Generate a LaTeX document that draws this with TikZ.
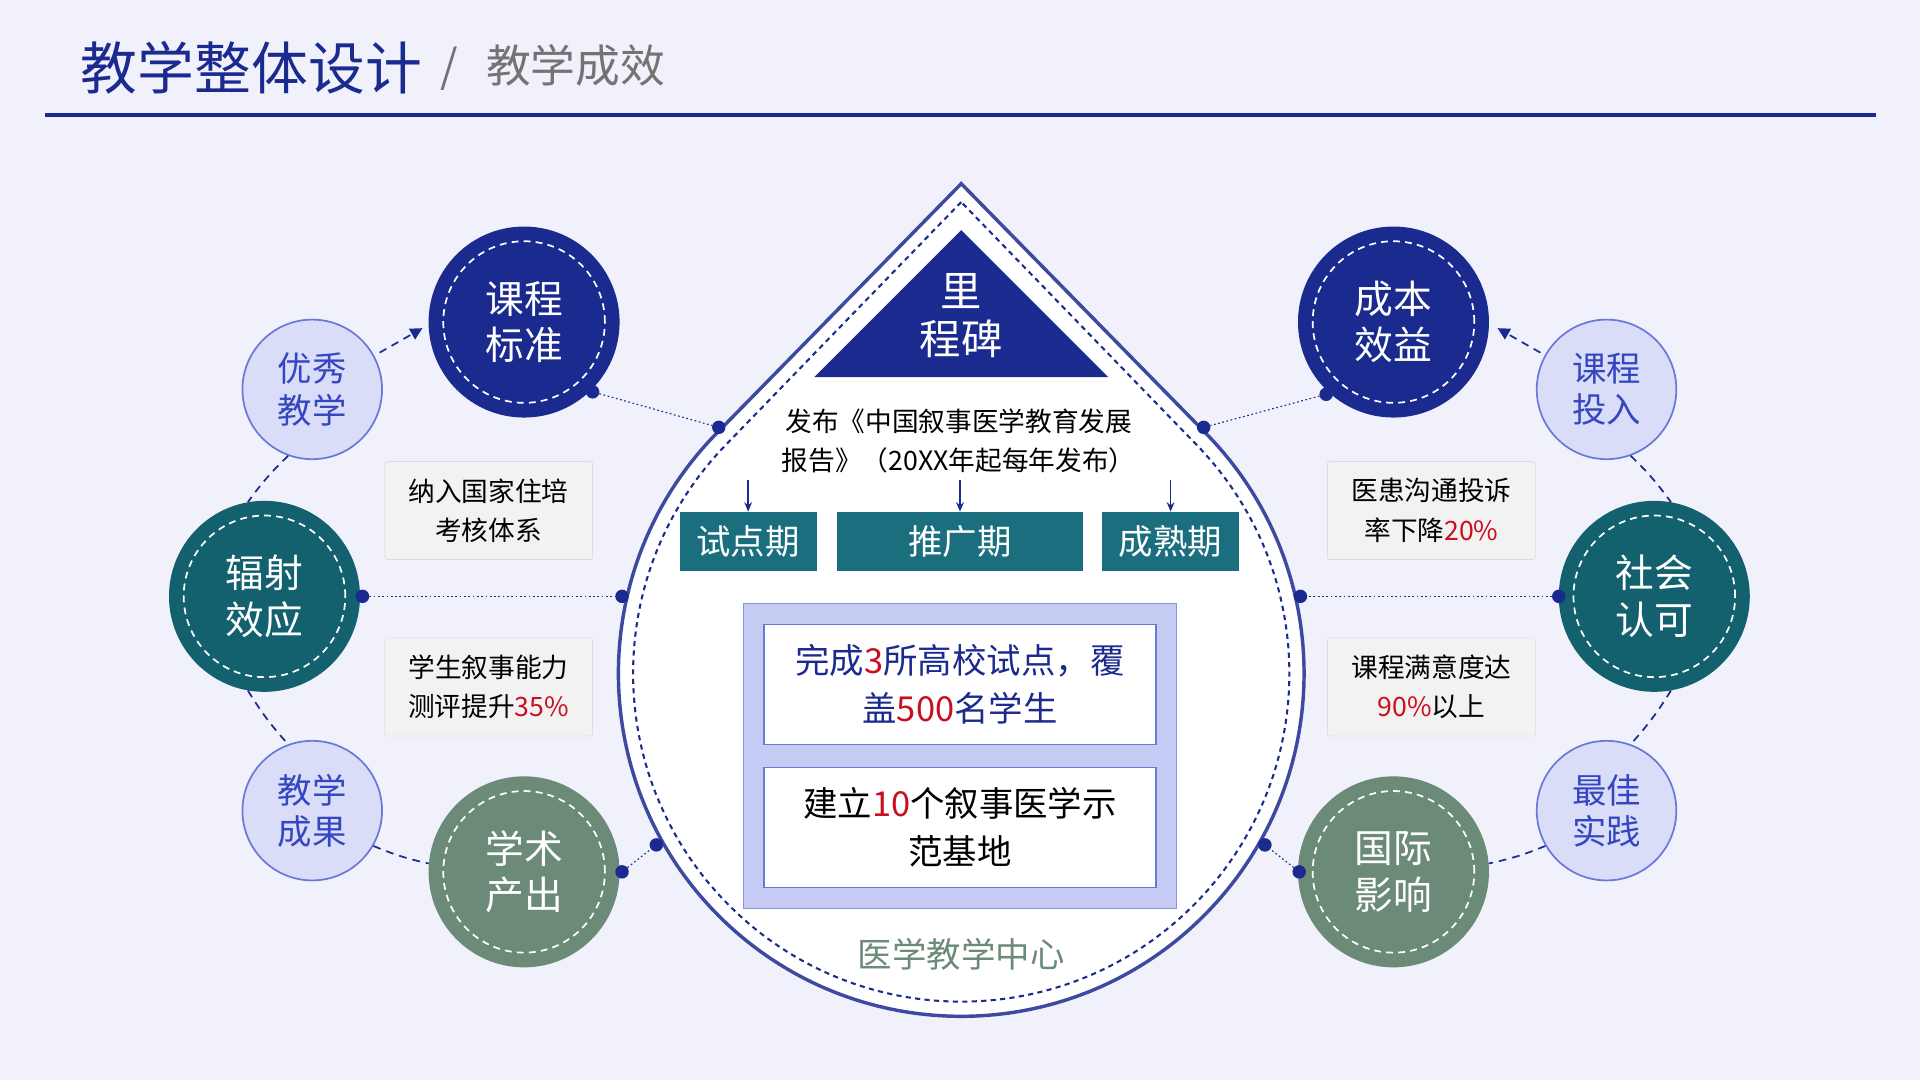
\documentclass[tikz,border=0pt]{standalone}
\usepackage{fontspec}
\setmainfont{Noto Sans CJK SC}
\usetikzlibrary{calc,arrows.meta}
\definecolor{bg}{HTML}{F1F1FC}
\definecolor{navy}{HTML}{1B2A8F}
\definecolor{teal}{HTML}{13606E}
\definecolor{sage}{HTML}{6B8A78}
\definecolor{lav}{HTML}{D9DDF8}
\definecolor{lavb}{HTML}{6A78D8}
\definecolor{lavt}{HTML}{3446C0}
\definecolor{boxt}{HTML}{1A6E7E}
\definecolor{redn}{HTML}{C8101E}
\definecolor{inner}{HTML}{C6CBF3}
\begin{document}
\begin{tikzpicture}[x=0.05cm,y=-0.05cm,
  big/.style={circle,minimum size=7.8cm,text=white,font=\fontsize{45}{54}\selectfont,align=center,inner sep=0pt},
  small/.style={circle,minimum size=5.7cm,fill=lav,draw=lavb,line width=2pt,text=lavt,font=\fontsize{40}{48}\selectfont,align=center,inner sep=0pt},
  gbox/.style={draw=black!18,fill=black!5,minimum width=8.5cm,minimum height=4cm,font=\fontsize{31}{46}\selectfont,align=center,rounded corners=2pt},
  phase/.style={fill=boxt,text=white,minimum height=2.4cm,font=\fontsize{40}{48}\selectfont,inner sep=0pt},
  wbox/.style={draw=lavb,fill=white,minimum width=16cm,minimum height=4.9cm,font=\fontsize{40}{56}\selectfont,align=center,line width=1.5pt},
  idash/.style={white,line width=2pt,dash pattern=on 8pt off 6pt},
  conn/.style={navy,line width=1.3pt,dash pattern=on 2pt off 3pt},
  link/.style={navy,line width=2pt,dash pattern=on 9pt off 7pt},
  dotn/.style={circle,fill=navy,minimum size=0.55cm,inner sep=0pt}]
\fill[bg] (0,0) rectangle (1568,882);
% title
\node[anchor=west,text=navy,font=\fontsize{66}{74}\selectfont,inner sep=0pt] (t1) at (66,55) {教学整体设计};
\node[anchor=west,text=black!55,font=\fontsize{52}{60}\selectfont,inner sep=0pt] (t2) at (360,55) {/ \, 教学成效};
\draw[navy,line width=5pt] (37,94) -- (1532,94);
% drop
\coordinate (dc) at (785,550);
\draw[navy!85,line width=4pt,fill=white] (785,150) -- ($(dc)+(135.6:14cm)$) arc[start angle=135.6,end angle=404.4,radius=14cm] -- cycle;
\draw[navy,line width=2.4pt,dash pattern=on 6pt off 5pt] (785,165) -- ($(dc)+(135.9:13.4cm)$) arc[start angle=135.9,end angle=404.1,radius=13.4cm] -- cycle;
\fill[navy] (785,188) -- (905,308) -- (665,308) -- cycle;
\node[text=white,font=\fontsize{48}{56}\selectfont,align=center] (mb) at (785,258) {里\\程碑};
\node[font=\fontsize{31}{46}\selectfont,align=center] (pub) at (783,360) {发布《中国叙事医学教育发展\\报告》（20XX年起每年发布）};
\node[phase,minimum width=5.6cm] (p1) at (611,442) {试点期};
\node[phase,minimum width=10.05cm] (p2) at (784,442) {推广期};
\node[phase,minimum width=5.6cm] (p3) at (956,442) {成熟期};
\foreach \x/\p in {611/p1,784/p2,956/p3}{\coordinate (a\p) at (\x,392); \draw[navy,line width=2pt,-{Stealth[length=11pt,width=9pt]}] (a\p) -- (\p.north);}
\node[draw=lavb!80,fill=inner,minimum width=17.7cm,minimum height=12.45cm,line width=1.5pt] (lb) at (784,617.5) {};
\node[wbox,text=navy] (w1) at (784,559) {完成\textcolor{redn}{3}所高校试点，覆\\盖\textcolor{redn}{500}名学生};
\node[wbox] (w2) at (784,675.5) {建立\textcolor{redn}{10}个叙事医学示\\范基地};
\node[text=sage,font=\fontsize{40}{48}\selectfont] (ctr) at (785,779) {医学教学中心};
% big circles
\node[big,fill=navy] (c1) at (428,263) {课程\\标准};
\node[big,fill=teal] (c2) at (216,487) {辐射\\效应};
\node[big,fill=sage] (c3) at (428,712) {学术\\产出};
\node[big,fill=navy] (c4) at (1138,263) {成本\\效益};
\node[big,fill=teal] (c5) at (1351,487) {社会\\认可};
\node[big,fill=sage] (c6) at (1138,712) {国际\\影响};
\foreach \c in {c1,c2,c3,c4,c5,c6}{\draw[idash] (\c) circle (3.3cm);}
% small circles
\node[small] (s1) at (255,318) {优秀\\教学};
\node[small] (s2) at (255,662) {教学\\成果};
\node[small] (s3) at (1312,318) {课程\\投入};
\node[small] (s4) at (1312,662) {最佳\\实践};
% grey boxes
\node[gbox] (g1) at (399,417) {纳入国家住培\\考核体系};
\node[gbox] (g2) at (399,561) {学生叙事能力\\测评提升\textcolor{redn}{35\%}};
\node[gbox] (g3) at (1169,417) {医患沟通投诉\\率下降\textcolor{redn}{20\%}};
\node[gbox] (g4) at (1169,561) {课程满意度达\\\textcolor{redn}{90\%}以上};
% dotted connectors
\node[dotn] (d1) at (587,349) {}; \node[dotn] (d2) at (508,487) {}; \node[dotn] (d3) at (536,690) {};
\node[dotn] (d4) at (983,349) {}; \node[dotn] (d5) at (1062,487) {}; \node[dotn] (d6) at (1033,690) {};
\node[dotn] (e1) at (484,320) {}; \node[dotn] (e2) at (296,487) {}; \node[dotn] (e3) at (508,712) {};
\node[dotn] (e4) at (1083,322) {}; \node[dotn] (e5) at (1273,487) {}; \node[dotn] (e6) at (1061,712) {};
\draw[conn] (e1) -- (d1); \draw[conn] (e2) -- (d2); \draw[conn] (e3) -- (d3);
\draw[conn] (e4) -- (d4); \draw[conn] (e5) -- (d5); \draw[conn] (e6) -- (d6);
% dashed links
\coordinate (l1a) at (310,288); \coordinate (l1b) at (345,268);
\draw[link,-{Triangle[length=14pt,width=14pt]}] (l1a) -- (l1b);
\coordinate (l2a) at (1258,288); \coordinate (l2b) at (1223,268);
\draw[link,-{Triangle[length=14pt,width=14pt]}] (l2a) -- (l2b);
\draw[link] (s1.250) to[bend right=5] (c2.100);
\draw[link] (c2.260) to[bend right=5] (s2.110);
\draw[link] (s2.330) to[bend right=5] (c3.175);
\draw[link] (s3.290) to[bend left=5] (c5.80);
\draw[link] (c5.280) to[bend left=5] (s4.70);
\draw[link] (s4.210) to[bend left=5] (c6.5);
\end{tikzpicture}
\end{document}
